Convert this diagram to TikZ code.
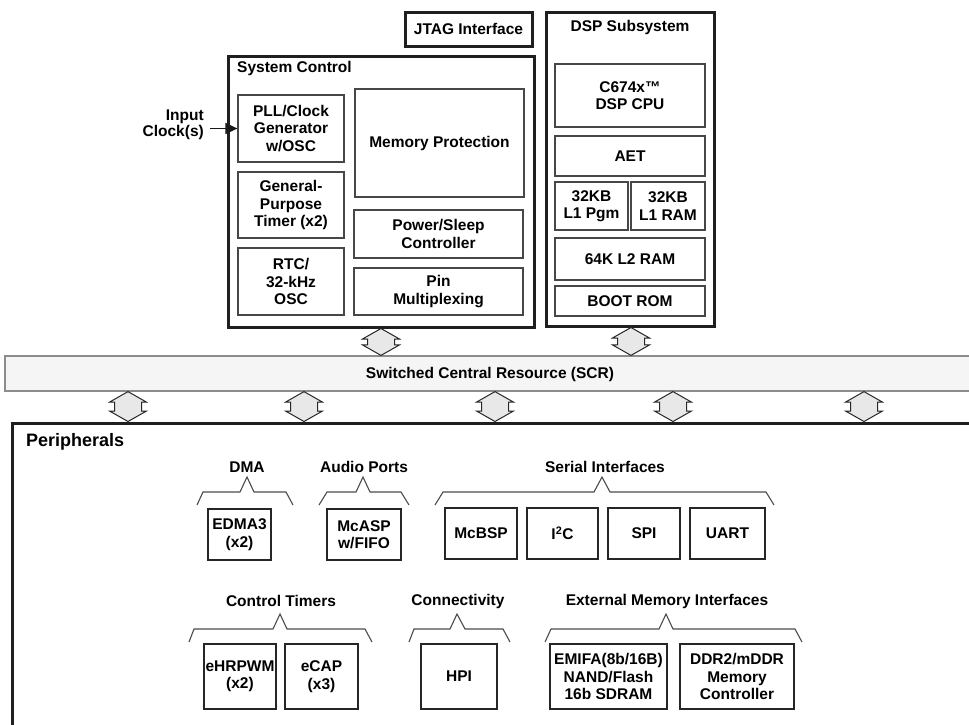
\documentclass[tikz,border=0pt]{standalone}
\usepackage{fontspec}
\setmainfont{Liberation Sans}
\usetikzlibrary{arrows.meta,calc}
\newcommand\lbl{\fontsize{15.5}{17.5}\selectfont\bfseries}
\tikzset{
  outerbox/.style={draw=black!88, line width=3pt, inner sep=0pt},
  innerbox/.style={draw=black!72, line width=1.2pt, align=center, font=\lbl, inner sep=0pt},
  pbox/.style={draw=black!85, line width=2.4pt, align=center, font=\lbl, inner sep=0pt},
  titletext/.style={font=\lbl, inner sep=0pt, align=center},
  bracepath/.style={draw=black!70, line width=1.1pt, line join=miter},
  blockarrow/.style={draw=black!85, fill=black!9, line width=1pt, line join=miter},
  scrbar/.style={draw=black!45, fill=black!4, line width=1.2pt, inner sep=0pt},
}
% box by corners (pixel coordinates, y downwards)
\newcommand\bx[7]{\node[#6, minimum width={(#4)-(#2)}, minimum height={(#5)-(#3)}] (#1) at ({((#2)+(#4))/2},{((#3)+(#5))/2}) {#7};}
% double block arrow at x=#1 between anchors #2 (top) and #3 (bottom)
\newcommand\dbl[3]{%
  \path (#1,0) coordinate (tmpx);
  \draw[blockarrow] let \p1=(tmpx |- #2), \p2=(tmpx |- #3) in
   (\x1,\y1) -- (\x1+18.5pt,\y1-10.5pt) -- (\x1+13.5pt,\y1-10.5pt) -- (\x1+13.5pt,\y2+10.5pt)
   -- (\x1+18.5pt,\y2+10.5pt) -- (\x1,\y2) -- (\x1-18.5pt,\y2+10.5pt) -- (\x1-13.5pt,\y2+10.5pt)
   -- (\x1-13.5pt,\y1-10.5pt) -- (\x1-18.5pt,\y1-10.5pt) -- cycle;}
% group bracket
\newcommand\brc[8]{\draw[bracepath] (#1,#8+13) -- (#2,#8) -- (#3,#8) -- (#4,#8-15) -- (#5,#8) -- (#6,#8) -- (#7,#8+13);}
\begin{document}
\begin{tikzpicture}[x=1pt,y=-1pt]
\useasboundingbox (0,0) rectangle (969,724);
\fill[white] (0,0) rectangle (969,724);
\clip (0,0) rectangle (969,724);

% ---------- top blocks ----------
\bx{jtag}{405}{12}{532}{46}{outerbox, font=\lbl}{JTAG Interface}
\bx{sc}{228}{56}{534}{327}{outerbox}{}
\node[titletext, anchor=west] (sctitle) at (237,68) {System Control};
\bx{pll}{238}{95}{344}{162}{innerbox}{PLL/Clock\\Generator\\w/OSC}
\bx{gpt}{238}{172}{344}{238}{innerbox}{General-\\Purpose\\Timer (x2)}
\bx{rtc}{238}{248}{344}{315}{innerbox}{RTC/\\32-kHz\\OSC}
\bx{memp}{355}{89}{524}{197}{innerbox}{\raisebox{-7pt}{Memory Protection}}
\bx{pwr}{354}{210}{523}{258}{innerbox}{Power/Sleep\\Controller}
\bx{pin}{354}{268}{523}{315}{innerbox}{Pin\\Multiplexing}

\node[titletext, align=right, anchor=east, font=\fontsize{15.5}{15.5}\selectfont\bfseries] (clk) at (204,125) {Input\\Clock(s)};
\coordinate (clkin) at (210,128.5);
\draw[line width=1.4pt, black!90, -{Triangle[length=12pt,width=11pt]}] (clkin) -- (pll.west);

\bx{dsp}{546}{12}{714}{326}{outerbox}{}
\node[titletext] (dsptitle) at (630,27) {DSP Subsystem};
\bx{cpu}{555}{64}{705}{127}{innerbox}{C674x™\\DSP CPU}
\bx{aet}{555}{136}{705}{176}{innerbox}{AET}
\bx{lp}{555}{182}{628}{230}{innerbox}{32KB\\L1 Pgm}
\bx{lr}{631}{182}{705}{230}{innerbox}{32KB\\L1 RAM}
\bx{ltwo}{555}{238}{705}{280}{innerbox}{64K L2 RAM}
\bx{boot}{555}{286}{705}{316}{innerbox}{BOOT ROM}

% ---------- SCR ----------
\bx{scr}{5}{356}{990}{391}{scrbar}{}
\node[titletext] (scrtext) at (490,374) {Switched Central Resource (SCR)};

% ---------- peripherals ----------
\bx{per}{12}{423}{1000}{760}{outerbox}{}
\node[titletext, anchor=west, font=\fontsize{18}{20}\selectfont\bfseries] (pertitle) at (26,442) {Peripherals};

\dbl{381}{sc.south}{scr.north}
\dbl{631}{dsp.south}{scr.north}
\foreach \ax in {128,304,495,673,864}{\dbl{\ax}{scr.south}{per.north}}

% upper row
\node[titletext] (dmal) at (247,467) {DMA};
\node[titletext] (audl) at (364,467) {Audio Ports};
\node[titletext] (serl) at (605,467) {Serial Interfaces};
\brc{197}{203}{240}{247}{254}{286}{293}{492}
\brc{319}{327}{356}{363}{370}{401}{409}{492}
\brc{435}{443}{594}{602}{610}{766}{774}{492}
\bx{edma}{208}{509}{271}{560}{pbox}{EDMA3\\(x2)}
\bx{mcasp}{327}{509}{401}{560}{pbox}{McASP\\w/FIFO}
\bx{mcbsp}{445}{508}{517}{559}{pbox}{McBSP}
\bx{iic}{527}{508}{598}{559}{pbox}{I\textsuperscript{2}C}
\bx{spi}{608}{508}{680}{559}{pbox}{SPI}
\bx{uart}{690}{508}{765}{559}{pbox}{UART}

% lower row
\node[titletext] (ctl) at (281,601) {Control Timers};
\node[titletext] (conl) at (458,601) {Connectivity};
\node[titletext] (eml) at (667,601) {External Memory Interfaces};
\brc{189}{194}{273}{280}{287}{365}{372}{629}
\brc{409}{414}{450}{457}{465}{503}{510}{629}
\brc{545}{551}{659}{666}{673}{795}{802}{629}
\bx{ehr}{204}{644}{276}{709}{pbox}{eHRPWM\\(x2)}
\bx{ecap}{285}{644}{358}{709}{pbox}{eCAP\\(x3)}
\bx{hpi}{421}{644}{497}{709}{pbox}{HPI}
\bx{emifa}{550}{644}{667}{709}{pbox}{EMIFA(8b/16B)\\NAND/Flash\\16b SDRAM}
\bx{ddr}{680}{644}{794}{709}{pbox}{DDR2/mDDR\\Memory\\Controller}
\end{tikzpicture}
\end{document}
